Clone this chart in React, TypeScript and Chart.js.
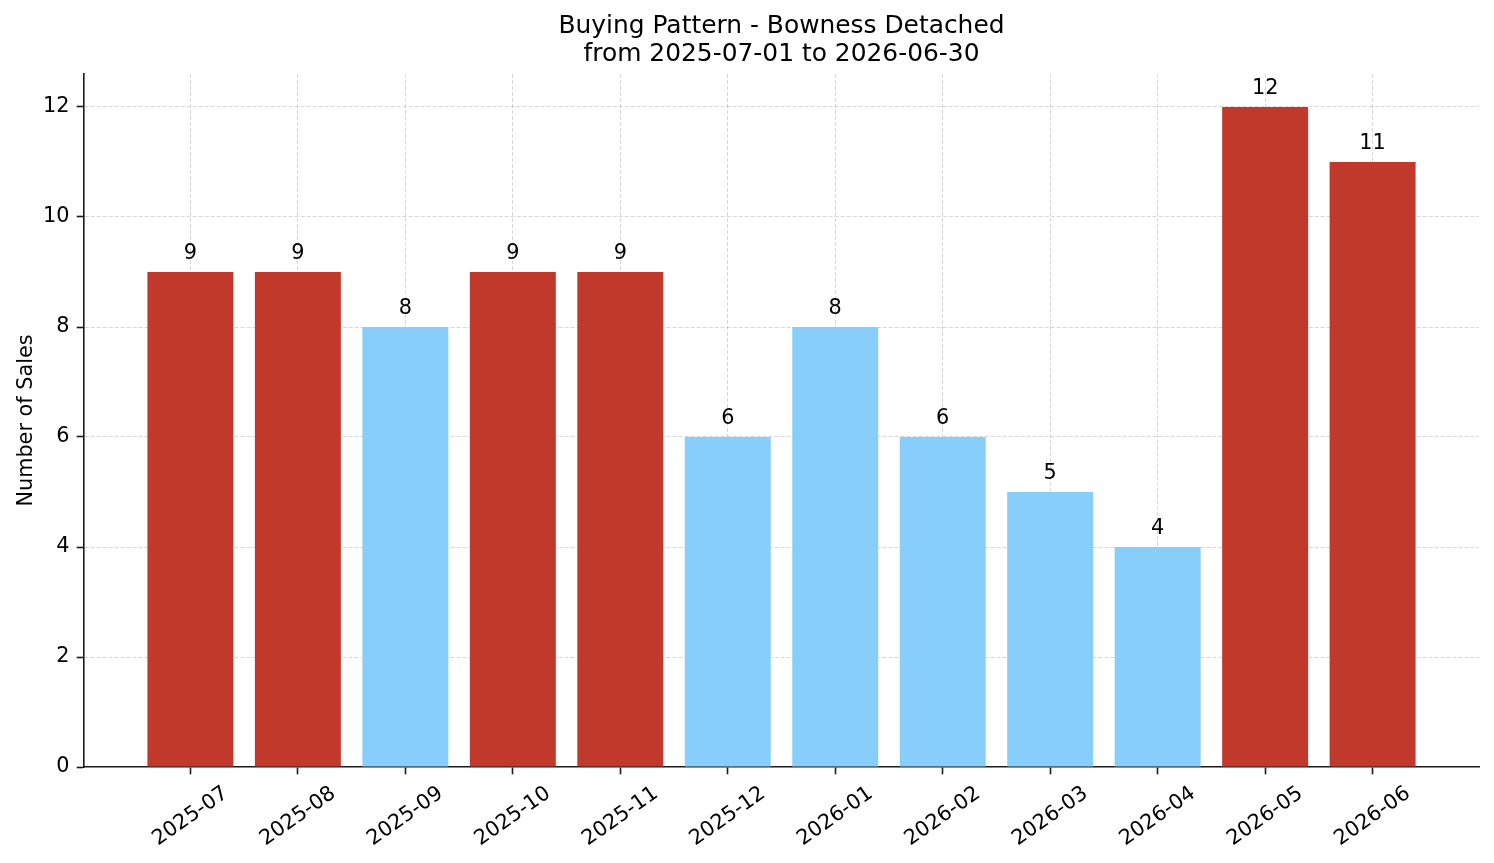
import React, { useEffect, useRef } from 'react';
import { Chart, registerables } from 'chart.js';

Chart.register(...registerables);

const months = ['2025-07', '2025-08', '2025-09', '2025-10', '2025-11', '2025-12', '2026-01', '2026-02', '2026-03', '2026-04', '2026-05', '2026-06'];
const sales = [9, 9, 8, 9, 9, 6, 8, 6, 5, 4, 12, 11];
const yTickValues = [0, 2, 4, 6, 8, 10, 12];
const titleLines = ['Buying Pattern - Bowness Detached', 'from 2025-07-01 to 2026-06-30'];
const yAxisLabel = 'Number of Sales';

const FONT = '"DejaVu Sans", "Liberation Sans", sans-serif';
const HIGH = '#C0392B';
const LOW = '#87CEFA';
const GRID = 'rgba(176,176,176,0.5)';
const AXIS = '#1a1a1a';
const TICK_PX = 20.8;

export default function App() {
  const ref = useRef<HTMLCanvasElement | null>(null);

  useEffect(() => {
    const canvas = ref.current;
    if (!canvas) return;
    const mean = sales.reduce((a, b) => a + b, 0) / sales.length;
    const colors = sales.map((v) => (v > mean ? HIGH : LOW));

    const textPlugin = {
      id: 'textPlugin',
      afterDraw(chart: any) {
        const { ctx, chartArea } = chart;
        const xs = chart.scales.x;
        const ys = chart.scales.y;
        ctx.save();
        ctx.fillStyle = '#000';
        // title
        ctx.font = `24.9px ${FONT}`;
        ctx.textAlign = 'center';
        ctx.textBaseline = 'alphabetic';
        const cx = (chartArea.left + chartArea.right) / 2;
        ctx.fillText(titleLines[0], cx, 33);
        ctx.fillText(titleLines[1], cx, 61);
        // y axis label
        ctx.save();
        ctx.font = `${TICK_PX}px ${FONT}`;
        ctx.translate(32, (chartArea.top + chartArea.bottom) / 2);
        ctx.rotate(-Math.PI / 2);
        ctx.textAlign = 'center';
        ctx.textBaseline = 'alphabetic';
        ctx.fillText(yAxisLabel, 0, 0);
        ctx.restore();
        // value labels
        ctx.font = `${TICK_PX}px ${FONT}`;
        ctx.textAlign = 'center';
        ctx.textBaseline = 'alphabetic';
        sales.forEach((v, i) => {
          ctx.fillText(String(v), xs.getPixelForValue(i), ys.getPixelForValue(v) - 13);
        });
        // x tick labels, rotated 35deg, centered on tick
        const ang = (35 * Math.PI) / 180;
        const H = TICK_PX * 1.17;
        const top = chartArea.bottom + 7.3 + 7.3;
        months.forEach((m, i) => {
          const W = ctx.measureText(m).width;
          const boxH = W * Math.sin(ang) + H * Math.cos(ang);
          ctx.save();
          ctx.translate(xs.getPixelForValue(i), top + boxH / 2);
          ctx.rotate(-ang);
          ctx.textAlign = 'center';
          ctx.textBaseline = 'middle';
          ctx.fillText(m, 0, 0);
          ctx.restore();
        });
        ctx.restore();
      },
    };

    const chart = new Chart(canvas, {
      type: 'bar',
      data: {
        datasets: [
          {
            data: sales.map((v, i) => ({ x: i, y: v })),
            backgroundColor: colors,
            borderWidth: 0,
            barPercentage: 0.8,
            categoryPercentage: 1,
          },
        ],
      },
      options: {
        responsive: false,
        devicePixelRatio: 1,
        animation: false,
        layout: { padding: { top: 74, right: 15, left: 0, bottom: 0 } },
        plugins: { legend: { display: false }, title: { display: false }, tooltip: { enabled: false } },
        scales: {
          x: {
            type: 'linear',
            min: -0.99,
            max: 11.99,
            offset: false,
            z: 1,
            afterBuildTicks: (s: any) => {
              s.ticks = months.map((_, i) => ({ value: i }));
            },
            afterFit: (s: any) => {
              s.height = 96;
            },
            ticks: { display: false },
            grid: {
              offset: false,
              color: GRID,
              lineWidth: 1,
              drawTicks: true,
              tickLength: 7.3,
              tickColor: AXIS,
              tickWidth: 1.6,
              tickBorderDash: [],
            },
            border: { display: true, color: AXIS, width: 1.6, dash: [4, 2] },
          },
          y: {
            type: 'linear',
            min: 0,
            max: 12.6,
            z: 1,
            afterBuildTicks: (s: any) => {
              s.ticks = yTickValues.map((v) => ({ value: v }));
            },
            afterFit: (s: any) => {
              s.width = 84;
            },
            ticks: {
              color: '#000',
              font: { family: FONT, size: TICK_PX },
              padding: 7.3,
              callback: (v: any) => String(v),
            },
            grid: {
              color: (c: any) => (c.tick && c.tick.value === 0 ? 'rgba(0,0,0,0)' : GRID),
              lineWidth: 1,
              drawTicks: true,
              tickLength: 7.3,
              tickColor: AXIS,
              tickWidth: 1.6,
              tickBorderDash: [],
            },
            border: { display: true, color: AXIS, width: 1.6, dash: [4, 2] },
          },
        },
      },
      plugins: [textPlugin],
    } as any);

    return () => chart.destroy();
  }, []);

  return (
    <div style={{ position: 'fixed', left: 0, top: 0, width: 1494, height: 863, background: '#fff' }}>
      <canvas ref={ref} width={1494} height={863} style={{ display: 'block', width: 1494, height: 863 }} />
    </div>
  );
}
